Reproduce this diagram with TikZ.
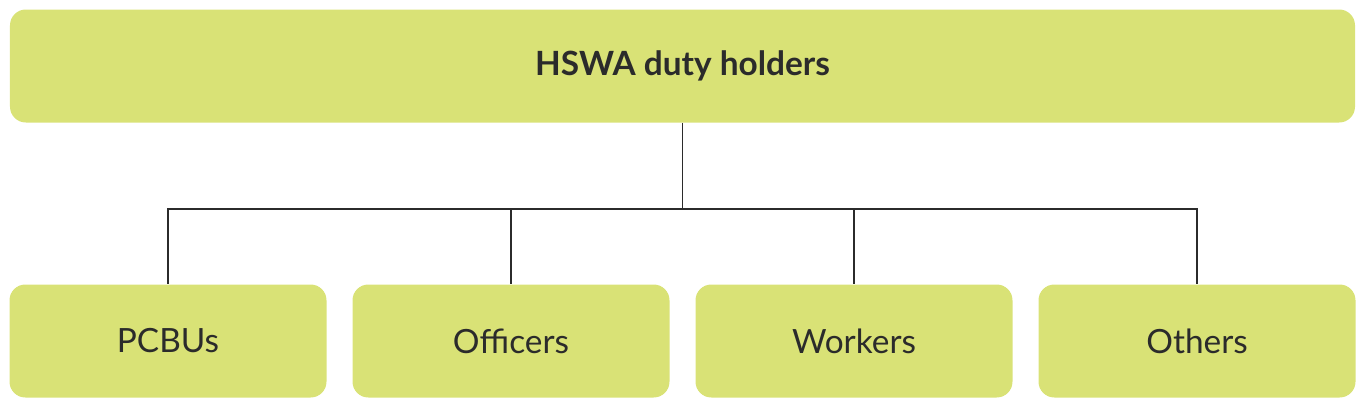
\documentclass[tikz,border=0pt]{standalone}
\usepackage{fontspec}
\setmainfont{Lato}
\usetikzlibrary{positioning}
\definecolor{boxgreen}{HTML}{D9E276}
\definecolor{txtgray}{HTML}{2B2B2B}
\begin{document}
\begin{tikzpicture}[
    box/.style={fill=boxgreen, rounded corners=9pt, minimum height=2.26cm,
                text=txtgray, font=\fontsize{19}{22}\selectfont, inner sep=0pt},
    link/.style={line width=0.6pt, draw=txtgray},
]
\useasboundingbox (0,0) rectangle (27.32,8.16);

% ===== Root =====
\node[box, minimum width=26.9cm, font=\fontsize{19}{22}\selectfont\bfseries] at (13.65,6.84) (hswa) {HSWA duty holders};

% ===== Duty holders =====
\node[box, minimum width=6.34cm] at (3.36,1.34) (pcbu) {PCBUs};
\node[box, minimum width=6.34cm] at (10.22,1.34) (off) {Officers};
\node[box, minimum width=6.34cm] at (17.08,1.34) (work) {Workers};
\node[box, minimum width=6.34cm] at (23.94,1.34) (oth) {Others};

% ===== Connectors =====
\coordinate (bar) at (13.65,3.98);
\draw[link] (hswa.south) -- (bar);
\draw[link] (bar) -| (pcbu.north);
\draw[link] (bar) -| (off.north);
\draw[link] (bar) -| (work.north);
\draw[link] (bar) -| (oth.north);

\end{tikzpicture}
\end{document}
